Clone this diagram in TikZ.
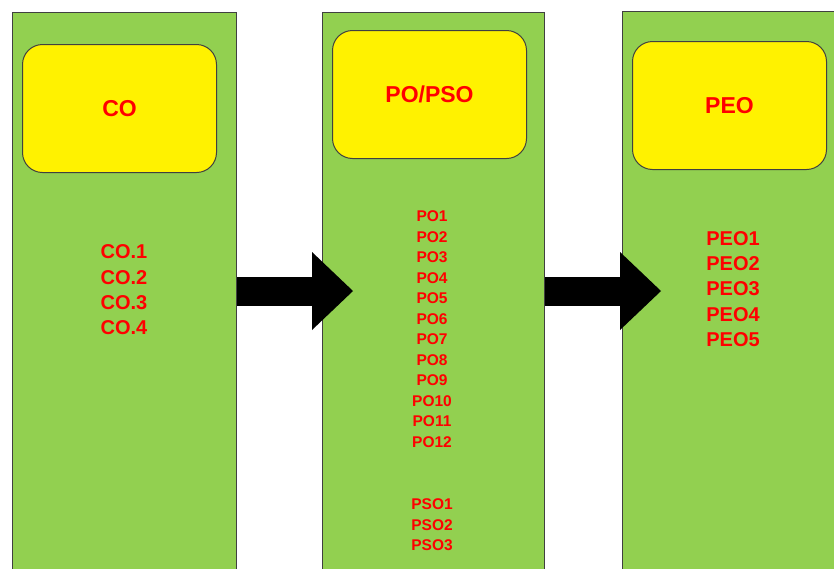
\documentclass[tikz,border=0pt]{standalone}
\usepackage{fontspec}
\setmainfont{Liberation Sans}
\usetikzlibrary{arrows.meta, positioning}
\definecolor{colgreen}{HTML}{92D050}
\tikzstyle{column} = [rectangle, draw=black!75, line width=1pt, fill=colgreen, anchor=north west, minimum height=600pt, inner sep=0pt]
\tikzstyle{head} = [rectangle, rounded corners=20pt, draw=black!75, line width=1pt, fill=yellow, anchor=north west, minimum width=194pt, minimum height=128pt, text=red, font=\fontsize{23}{27}\selectfont\bfseries]
\tikzstyle{biglist} = [text=red, align=center, font=\fontsize{20}{25.3}\selectfont\bfseries]
\tikzstyle{smalllist} = [text=red, align=center, font=\fontsize{15.5}{20.5}\selectfont\bfseries]
\tikzstyle{bigarrow} = [line width=29pt, -{Triangle[length=41pt, width=78pt, line width=0pt]}]

\begin{document}
\begin{tikzpicture}[x=1pt, y=-1pt]
	\clip (0,0) rectangle (834,568);
	\node (colA) [column, minimum width=224pt] at (12,12) {};
	\node (colB) [column, minimum width=222pt] at (322,12) {};
	\node (colC) [column, minimum width=260pt] at (622,11) {};
	
	\node (co) [head] at (22,44) {CO};
	\node (popso) [head] at (332,30) {PO/PSO};
	\node (peo) [head] at (632,41) {PEO};
	
	\node (colist) [biglist] at (124,290) {CO.1 \\ CO.2 \\ CO.3 \\ CO.4};
	\node (polist) [smalllist] at (432,329) {PO1 \\ PO2 \\ PO3 \\ PO4 \\ PO5 \\ PO6 \\ PO7 \\ PO8 \\ PO9 \\ PO10 \\ PO11 \\ PO12};
	\node (psolist) [smalllist] at (432,525) {PSO1 \\ PSO2 \\ PSO3};
	\node (peolist) [biglist] at (733,289) {PEO1 \\ PEO2 \\ PEO3 \\ PEO4 \\ PEO5};
	
	\coordinate (tipA) at (353,291);
	\coordinate (tipB) at (661,291);
	\draw [bigarrow] (colA.east |- tipA) -- (tipA);
	\draw [bigarrow] (colB.east |- tipB) -- (tipB);
\end{tikzpicture}
\end{document}
